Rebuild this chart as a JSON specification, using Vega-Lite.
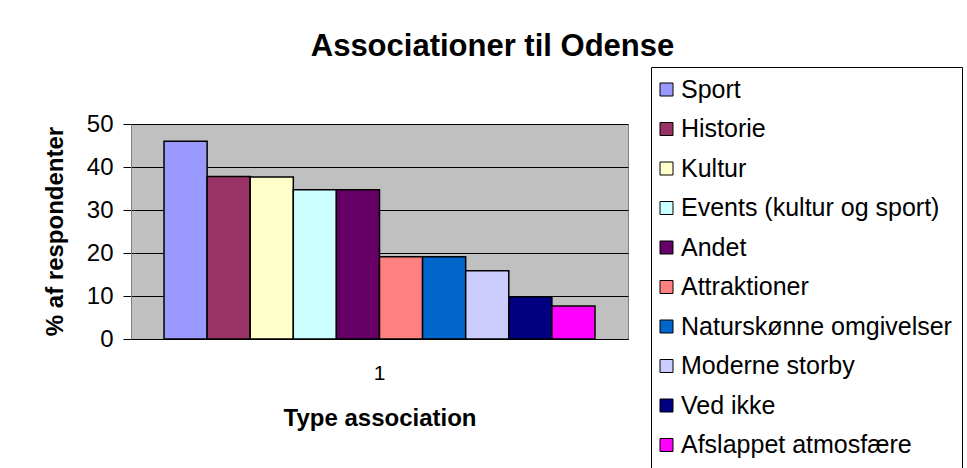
{
  "$schema": "https://vega.github.io/schema/vega-lite/v6.json",
  "width": 497,
  "height": 215,
  "autosize": "none",
  "padding": {"left": 131, "top": 124, "right": 339, "bottom": 129},
  "background": "white",
  "title": {
    "text": "Associationer til Odense",
    "font": "Liberation Sans",
    "fontSize": 31,
    "fontWeight": "bold",
    "color": "black",
    "anchor": "middle",
    "frame": "group",
    "dx": 113,
    "baseline": "alphabetic",
    "offset": -20
  },
  "data": {
    "values": [
      {"grp": "1", "category": "Sport", "value": 46.0},
      {"grp": "1", "category": "Historie", "value": 37.8},
      {"grp": "1", "category": "Kultur", "value": 37.7},
      {"grp": "1", "category": "Events (kultur og sport)", "value": 34.7},
      {"grp": "1", "category": "Andet", "value": 34.7},
      {"grp": "1", "category": "Attraktioner", "value": 19.1},
      {"grp": "1", "category": "Naturskønne omgivelser", "value": 19.1},
      {"grp": "1", "category": "Moderne storby", "value": 15.9},
      {"grp": "1", "category": "Ved ikke", "value": 9.8},
      {"grp": "1", "category": "Afslappet atmosfære", "value": 7.7}
    ]
  },
  "mark": {"type": "bar", "stroke": "black", "strokeWidth": 1.5},
  "encoding": {
    "x": {
      "field": "grp",
      "type": "nominal",
      "scale": {"paddingInner": 0, "paddingOuter": 0.0766},
      "axis": {
        "title": "Type association",
        "titleFont": "Liberation Sans",
        "titleFontSize": 24,
        "titleFontWeight": "bold",
        "titleColor": "black",
        "titleBaseline": "alphabetic",
        "titleY": 86,
        "labelAngle": 0,
        "labelFont": "Liberation Sans",
        "labelFontSize": 21,
        "labelColor": "black",
        "labelPadding": 23,
        "ticks": false,
        "domainColor": "black",
        "grid": false
      }
    },
    "xOffset": {
      "field": "category",
      "type": "nominal",
      "sort": ["Sport", "Historie", "Kultur", "Events (kultur og sport)", "Andet", "Attraktioner", "Naturskønne omgivelser", "Moderne storby", "Ved ikke", "Afslappet atmosfære"],
      "scale": {"paddingInner": 0, "paddingOuter": 0}
    },
    "y": {
      "field": "value",
      "type": "quantitative",
      "scale": {"domain": [0, 50]},
      "axis": {
        "title": "% af respondenter",
        "titleFont": "Liberation Sans",
        "titleFontSize": 24,
        "titleFontWeight": "bold",
        "titleColor": "black",
        "titleX": -76,
        "titleY": 107,
        "titleBaseline": "middle",
        "values": [0, 10, 20, 30, 40, 50],
        "labelFont": "Liberation Sans",
        "labelFontSize": 24,
        "labelColor": "black",
        "labelPadding": 10,
        "tickSize": 8,
        "tickColor": "black",
        "domainColor": "#808080",
        "grid": true,
        "gridColor": "black",
        "gridOpacity": 1,
        "gridWidth": 1
      }
    },
    "color": {
      "field": "category",
      "type": "nominal",
      "scale": {
        "domain": ["Sport", "Historie", "Kultur", "Events (kultur og sport)", "Andet", "Attraktioner", "Naturskønne omgivelser", "Moderne storby", "Ved ikke", "Afslappet atmosfære"],
        "range": ["#9999FF", "#993366", "#FFFFCC", "#CCFFFF", "#660066", "#FF8080", "#0066CC", "#CCCCFF", "#000080", "#FF00FF"]
      },
      "legend": {
        "title": null,
        "orient": "none",
        "legendX": 520,
        "legendY": -57,
        "strokeColor": "black",
        "fillColor": "white",
        "padding": 10,
        "symbolType": "square",
        "symbolSize": 169,
        "symbolOffset": -7,
        "symbolStrokeColor": "black",
        "symbolStrokeWidth": 1,
        "symbolOpacity": 1,
        "labelFont": "Liberation Sans",
        "labelFontSize": 25,
        "labelColor": "black",
        "labelOffset": 2,
        "labelLimit": 400,
        "rowPadding": 13.5
      }
    }
  },
  "config": {
    "view": {"fill": "#C0C0C0", "stroke": "#808080", "strokeWidth": 1}
  }
}
